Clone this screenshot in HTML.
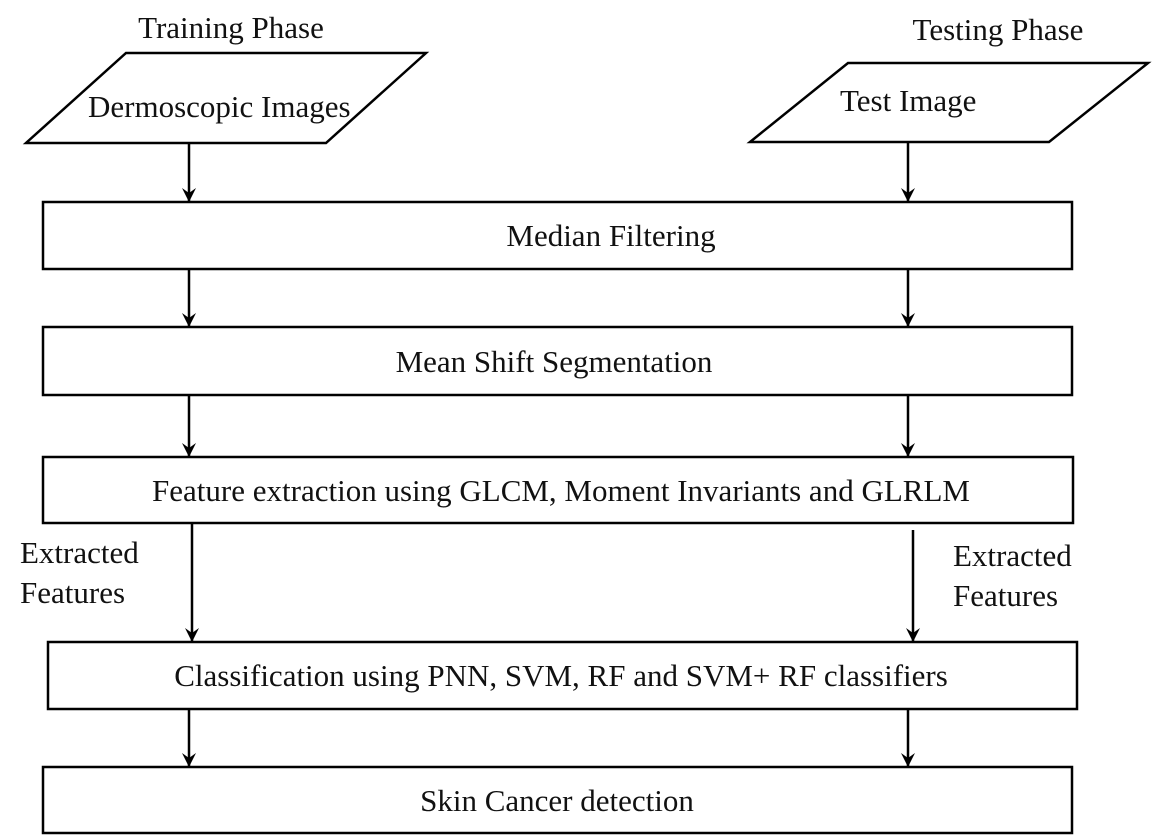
<!DOCTYPE html>
<html><head><style>
html,body{margin:0;padding:0;background:#fff;}
svg{display:block;}
text{font-family:"Liberation Serif",serif;font-size:31px;fill:#111;}
</style></head><body>
<svg width="1172" height="838" viewBox="0 0 1172 838" xmlns="http://www.w3.org/2000/svg">
<defs>
<marker id="b" markerWidth="14" markerHeight="14" refX="13" refY="7" orient="auto" markerUnits="userSpaceOnUse"><path d="M0,0 L5,7 L0,14 L14,7 Z" fill="#000"/></marker></defs>
<g stroke="#000" stroke-width="2.5" fill="none">
<polygon points="126,53 426,53 326,143 26,143"/>
<polygon points="848,63 1148,63 1049,142 750,142"/>
<rect x="43" y="202" width="1029" height="67"/>
<rect x="43" y="327" width="1029" height="68"/>
<rect x="43" y="457" width="1030" height="66"/>
<rect x="48" y="642" width="1029" height="67"/>
<rect x="43" y="767" width="1029" height="66"/>
<line x1="189" y1="143" x2="189" y2="201" marker-end="url(#b)"/>
<line x1="908" y1="142" x2="908" y2="201" marker-end="url(#b)"/>
<line x1="189" y1="269" x2="189" y2="326" marker-end="url(#b)"/>
<line x1="908" y1="269" x2="908" y2="326" marker-end="url(#b)"/>
<line x1="189" y1="395" x2="189" y2="456" marker-end="url(#b)"/>
<line x1="908" y1="395" x2="908" y2="456" marker-end="url(#b)"/>
<line x1="192" y1="523" x2="192" y2="641" marker-end="url(#b)"/>
<line x1="913" y1="530" x2="913" y2="641" marker-end="url(#b)"/>
<line x1="189" y1="709" x2="189" y2="766" marker-end="url(#b)"/>
<line x1="908" y1="709" x2="908" y2="766" marker-end="url(#b)"/>
</g>
<text x="231" y="38" text-anchor="middle">Training Phase</text>
<text x="998" y="40" text-anchor="middle">Testing Phase</text>
<text x="88" y="117">Dermoscopic Images</text>
<text x="840" y="111">Test Image</text>
<text x="611" y="246" text-anchor="middle">Median Filtering</text>
<text x="554" y="372" text-anchor="middle">Mean Shift Segmentation</text>
<text x="561" y="501" text-anchor="middle">Feature extraction using GLCM, Moment Invariants and GLRLM</text>
<text x="561" y="686" text-anchor="middle">Classification using PNN, SVM, RF and SVM+ RF classifiers</text>
<text x="557" y="811" text-anchor="middle">Skin Cancer detection</text>
<text x="20" y="563">Extracted</text>
<text x="20" y="603">Features</text>
<text x="953" y="566">Extracted</text>
<text x="953" y="606">Features</text>
</svg>
</body></html>
